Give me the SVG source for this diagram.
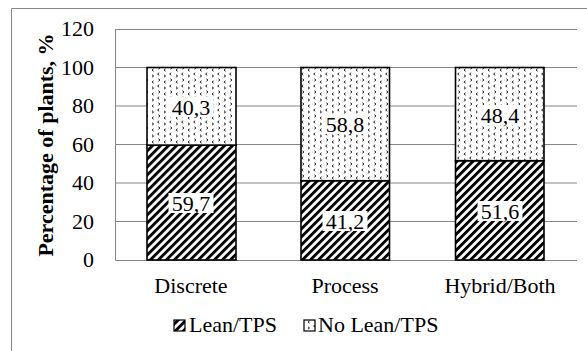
<svg xmlns="http://www.w3.org/2000/svg" width="587" height="351" viewBox="0 0 587 351" font-family="'Liberation Serif', 'Times New Roman', 'DejaVu Serif', serif" font-size="22">
<style>
.grid{stroke:#878787;stroke-width:1;fill:none}
.bar{stroke:#000;stroke-width:1.6}
.lbl{fill:#fff}
.t{text-anchor:end}
.c{text-anchor:middle}
</style>
<defs>
<pattern id="hatch" patternUnits="userSpaceOnUse" width="5.66" height="5.66" patternTransform="rotate(45)">
<rect width="5.66" height="5.66" fill="#fff"/>
<rect x="0" y="0" width="2.9" height="5.66" fill="#000"/>
</pattern>
<pattern id="dots" patternUnits="userSpaceOnUse" width="12" height="12">
<rect width="12" height="12" fill="#fff"/>
<g fill="none" stroke="#222" stroke-width="1">
<path d="M3.2 0.8 L1.6 2 L3.2 3.2"/>
<path d="M8 2.8 L9.6 4 L8 5.2"/>
<path d="M2.4 6.8 L4 8 L2.4 9.2"/>
<path d="M9.6 8.8 L8 10 L9.6 11.2"/>
</g>
</pattern>
</defs>
<g id="frame">
<path class="grid" d="M11.5 351 V8.5 H587"/>
</g>
<g id="axes">
<path class="grid" d="M115 29.5 H577 M115 67.5 H577 M115 106 H577 M115 144.5 H577 M115 183 H577 M115 221.5 H577"/>
<path class="grid" d="M115.5 29 V260.5 H577"/>
<text class="t" x="94" y="36">120</text>
<text class="t" x="94" y="74.5">100</text>
<text class="t" x="94" y="113">80</text>
<text class="t" x="94" y="151.5">60</text>
<text class="t" x="94" y="190">40</text>
<text class="t" x="94" y="228.5">20</text>
<text class="t" x="94" y="267">0</text>
<text class="c" x="0" y="0" font-weight="bold" transform="translate(52.5 145) rotate(-90)">Percentage of plants, %</text>
<text class="c" x="191" y="293">Discrete</text>
<text class="c" x="345" y="293">Process</text>
<text class="c" x="500" y="293">Hybrid/Both</text>
</g>
<g id="bar-discrete">
<rect class="bar" x="147" y="145.1" width="89" height="114.9" fill="url(#hatch)"/>
<rect class="bar" x="147" y="67.5" width="89" height="77.6" fill="url(#dots)"/>
<rect class="lbl" x="168.5" y="97" width="45" height="20"/>
<text class="c" x="191" y="114.5">40,3</text>
<rect class="lbl" x="168.5" y="193" width="45" height="20"/>
<text class="c" x="191" y="211">59,7</text>
</g>
<g id="bar-process">
<rect class="bar" x="301" y="180.7" width="88.5" height="79.3" fill="url(#hatch)"/>
<rect class="bar" x="301" y="67.5" width="88.5" height="113.2" fill="url(#dots)"/>
<rect class="lbl" x="322.5" y="114" width="45" height="20"/>
<text class="c" x="345" y="132">58,8</text>
<rect class="lbl" x="322.5" y="211" width="45" height="20"/>
<text class="c" x="345" y="229">41,2</text>
</g>
<g id="bar-hybrid">
<rect class="bar" x="455.5" y="160.7" width="88.5" height="99.3" fill="url(#hatch)"/>
<rect class="bar" x="455.5" y="67.5" width="88.5" height="93.2" fill="url(#dots)"/>
<rect class="lbl" x="477.5" y="105" width="45" height="20"/>
<text class="c" x="500" y="123">48,4</text>
<rect class="lbl" x="477.5" y="201" width="45" height="20"/>
<text class="c" x="500" y="219">51,6</text>
</g>
<g id="legend">
<rect x="174" y="320" width="11" height="11" fill="url(#hatch)" stroke="#000" stroke-width="1.2"/>
<text x="189" y="332">Lean/TPS</text>
<rect x="304" y="320" width="11" height="11" fill="url(#dots)" stroke="#000" stroke-width="1.2"/>
<text x="318" y="332">No Lean/TPS</text>
</g>
</svg>
